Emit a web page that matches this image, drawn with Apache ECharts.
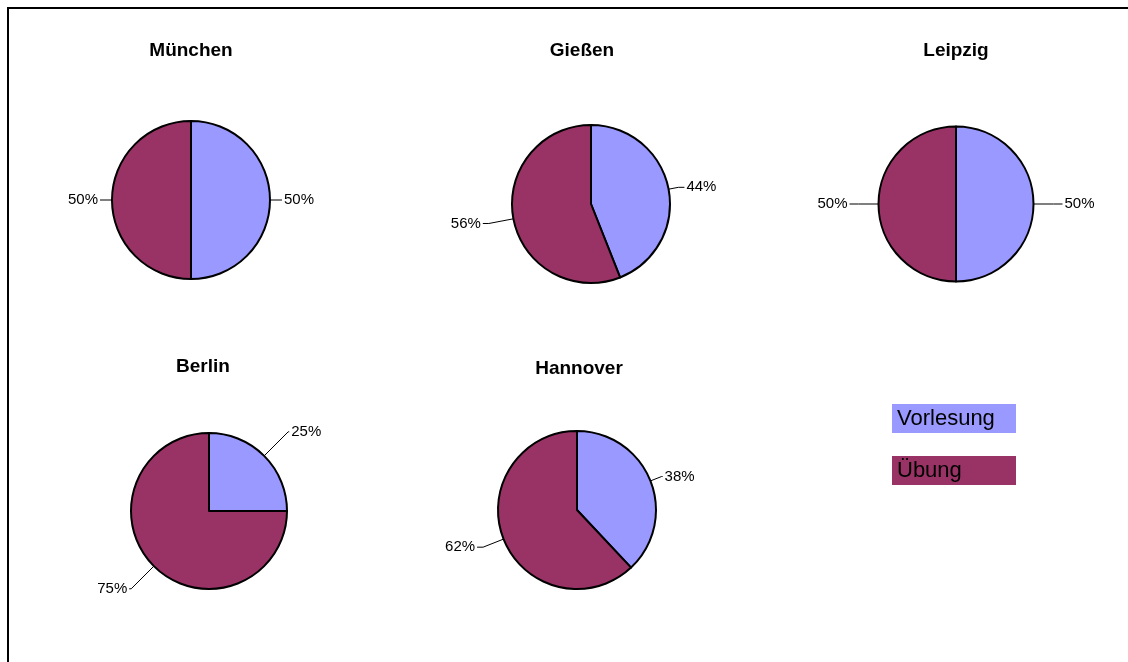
<!DOCTYPE html>
<html>
<head>
<meta charset="utf-8">
<script src="https://cdn.jsdelivr.net/npm/echarts@6/dist/echarts.min.js"></script>
<style>
html,body{margin:0;padding:0;background:#fff;}
#chart{width:1128px;height:662px;}
</style>
</head>
<body>
<div id="chart"></div>
<script>
// ---- data ----
var categories = ['Vorlesung', 'Übung'];
var cities = ['München', 'Gießen', 'Leipzig', 'Berlin', 'Hannover'];
var vorlesung = [50, 44, 50, 25, 38];
var uebung = [50, 56, 50, 75, 62];

// ---- layout / style ----
var colors = ['#9999FF', '#993366'];
var layout = [
  {cx: 191, cy: 200, r: 79, tx: 186, ty: 36, lines: [[7, 5], [7, 5]]},
  {cx: 591, cy: 204, r: 79, tx: 577, ty: 36, lines: [[10, 6], [25, 6]]},
  {cx: 956, cy: 204, r: 77.5, tx: 951, ty: 36, lines: [[20, 9], [20, 9]]},
  {cx: 209, cy: 511, r: 78, tx: 198, ty: 352, lines: [[34, 1], [32, 2]]},
  {cx: 577, cy: 510, r: 79, tx: 574, ty: 354, lines: [[12, 1], [22, 6]]}
];

var font = '"Liberation Sans", Arial, sans-serif';
var titles = [];
var series = [];
cities.forEach(function (city, i) {
  var L = layout[i];
  titles.push({
    text: city,
    left: L.tx,
    top: L.ty,
    textAlign: 'center',
    textStyle: {fontFamily: font, fontSize: 19, fontWeight: 'bold', color: '#000'}
  });
  var vals = [vorlesung[i], uebung[i]];
  series.push({
    type: 'pie',
    name: city,
    center: [L.cx, L.cy],
    radius: [0, L.r],
    startAngle: 90,
    clockwise: true,
    avoidLabelOverlap: false,
    silent: true,
    animation: false,
    itemStyle: {borderColor: '#000', borderWidth: 2},
    label: {
      show: true,
      position: 'outside',
      fontFamily: font,
      fontSize: 15,
      color: '#000',
      distanceToLabelLine: 2,
      formatter: function (p) { return Math.round(p.percent) + '%'; }
    },
    labelLine: {show: true, lineStyle: {color: '#000', width: 1}},
    data: categories.map(function (c, k) {
      return {
        name: c,
        value: vals[k],
        itemStyle: {color: colors[k]},
        labelLine: {length: L.lines[k][0], length2: L.lines[k][1]}
      };
    })
  });
});

var chart = echarts.init(document.getElementById('chart'), null, {renderer: 'canvas'});
chart.setOption({
  backgroundColor: '#fff',
  animation: false,
  title: titles,
  legend: {
    orient: 'vertical',
    left: 887,
    top: 404,
    padding: 0,
    itemWidth: 0,
    itemHeight: 29,
    itemGap: 23,
    selectedMode: false,
    itemStyle: {borderWidth: 0, opacity: 0},
    textStyle: {
      fontFamily: font,
      fontSize: 22,
      color: '#000',
      width: 119,
      height: 29,
      lineHeight: 29,
      padding: [0, 0, 0, 5]
    },
    data: categories.map(function (c, k) {
      return {name: c, textStyle: {backgroundColor: colors[k]}};
    })
  },
  graphic: [{
    type: 'rect',
    shape: {x: 8, y: 8, width: 1300, height: 800},
    style: {fill: 'none', stroke: '#000', lineWidth: 2},
    silent: true
  }],
  series: series
});
</script>
</body>
</html>
